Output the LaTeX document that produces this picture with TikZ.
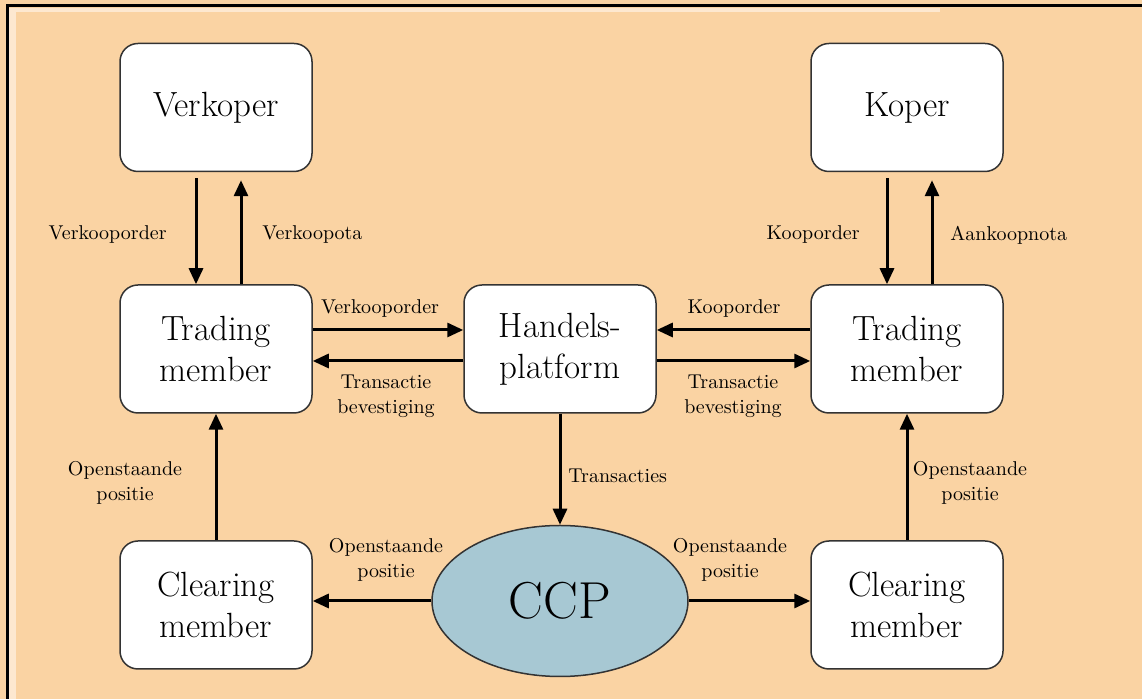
\documentclass[tikz,border=0pt]{standalone}
\usepackage{xcolor}
\usetikzlibrary{shapes.geometric,arrows.meta}

\definecolor{peach}{HTML}{FAD3A3}
\definecolor{lightpeach}{HTML}{FDE8D0}
\definecolor{ccpblue}{HTML}{A7C8D3}

\begin{document}
\begin{tikzpicture}[x=0.5pt,y=-0.5pt,
		party/.style={draw=black!80, line width=0.75pt, fill=white, rounded corners=9pt,
			minimum width=96pt, minimum height=64pt, align=center,
			font=\fontsize{17.5}{20.5}\selectfont},
		flow/.style={line width=1.5pt, -{Triangle[length=8pt,width=7pt]}},
		lbl/.style={font=\fontsize{10}{12.5}\selectfont, align=center, inner sep=0pt}]
			% Background and frame
			\useasboundingbox (0,0) rectangle (1142,699);
			\fill[peach] (0,0) rectangle (1142,699);
			\fill[lightpeach] (9,8) rectangle (16,699);
			\fill[lightpeach] (9,8) rectangle (940,12);
			\draw[line width=1.5pt] (7,699) -- (7,6) -- (1142,6);

			% Parties
			\node[party] (verk) at (216,107.5) {Verkoper};
			\node[party] (kop) at (907,107.5) {Koper};
			\node[party] (tml) at (216,349) {Trading\\member};
			\node[party] (hp) at (560,349) {Handels-\\platform};
			\node[party] (tmr) at (907,349) {Trading\\member};
			\node[party] (cml) at (216,605) {Clearing\\member};
			\node[party] (cmr) at (907,605) {Clearing\\member};
			\node[ellipse, draw=black!80, line width=0.75pt, fill=ccpblue,
				minimum width=128pt, minimum height=75.5pt,
				font=\fontsize{26}{30}\selectfont] (ccp) at (560,601) {CCP};

			% Labels
			\node[lbl, anchor=east] (l1) at (167,235) {Verkooporder};
			\node[lbl, anchor=west] (l2) at (262,235) {Verkoopota};
			\node[lbl, anchor=east] (l3) at (860,235) {Kooporder};
			\node[lbl, anchor=west] (l4) at (950,235) {Aankoopnota};
			\node[lbl] (l5) at (380,309) {Verkooporder};
			\node[lbl] (l6) at (734,309) {Kooporder};
			\node[lbl] (l7) at (386,396) {Transactie\\bevestiging};
			\node[lbl] (l8) at (733,396) {Transactie\\bevestiging};
			\node[lbl, anchor=west] (l9) at (568,476) {Transacties};
			\node[lbl] (l10) at (125,483) {Openstaande\\positie};
			\node[lbl] (l11) at (970,483) {Openstaande\\positie};
			\node[lbl] (l12) at (386,560) {Openstaande\\positie};
			\node[lbl] (l13) at (730,560) {Openstaande\\positie};

			% Draw mappings
			\draw[flow, shorten <=3pt] ([xshift=-10pt]verk.south) -- ([xshift=-10pt]tml.north);
			\draw[flow, shorten >=4pt] ([xshift=12.5pt]tml.north) -- ([xshift=12.5pt]verk.south);
			\draw[flow, shorten <=3pt] ([xshift=-10pt]kop.south) -- ([xshift=-10pt]tmr.north);
			\draw[flow, shorten >=4pt] ([xshift=12.5pt]tmr.north) -- ([xshift=12.5pt]kop.south);

			\draw[flow] ([yshift=9.5pt]tml.east) -- ([yshift=9.5pt]hp.west);
			\draw[flow] ([yshift=-6pt]hp.west) -- ([yshift=-6pt]tml.east);
			\draw[flow] ([yshift=9.5pt]tmr.west) -- ([yshift=9.5pt]hp.east);
			\draw[flow] ([yshift=-6pt]hp.east) -- ([yshift=-6pt]tmr.west);

			\draw[flow] (hp.south) -- (ccp.north);
			\draw[flow] (cml.north) -- (tml.south);
			\draw[flow] (cmr.north) -- (tmr.south);
			\draw[flow] (ccp.west) -- (ccp.west -| cml.east);
			\draw[flow] (ccp.east) -- (ccp.east -| cmr.west);
		\end{tikzpicture}
\end{document}
